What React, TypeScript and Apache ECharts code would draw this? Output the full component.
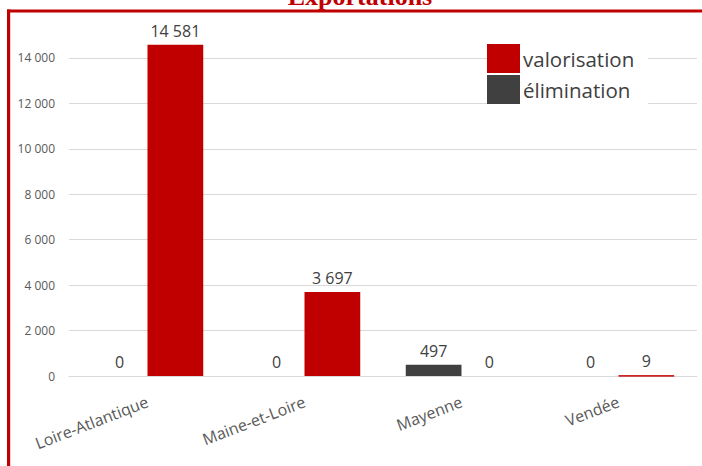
import React, { useEffect, useRef } from "react";
import * as echarts from "echarts";

const categories = ["Loire-Atlantique", "Maine-et-Loire", "Mayenne", "Vendée"];
const elimination = [0, 0, 497, 0];
const valorisation = [14581, 3697, 0, 9];
const seriesNames = ["valorisation", "élimination"];
const titleText = "Exportations";

const fmt = (v: number) => String(v).replace(/\B(?=(\d{3})+(?!\d))/g, " ");

export default function App() {
  const ref = useRef<HTMLDivElement>(null);
  useEffect(() => {
    if (!ref.current) return;
    const chart = echarts.init(ref.current, undefined, { renderer: "svg" });
    const labelStyle = {
      show: true,
      position: "top",
      distance: 6,
      fontFamily: "Open Sans",
      fontSize: 16,
      color: "#404040",
      formatter: (p: any) => fmt(p.value),
    };
    chart.setOption({
      animation: false,
      backgroundColor: "#ffffff",
      textStyle: { fontFamily: "Open Sans" },
      grid: { left: 69, right: 5, top: 12.5, bottom: 90 },
      legend: {
        orient: "vertical",
        left: 487,
        top: 37,
        itemWidth: 33,
        itemHeight: 29,
        itemGap: 2,
        padding: [7, 14, 7, 0],
        backgroundColor: "#ffffff",
        icon: "rect",
        data: seriesNames,
        textStyle: { fontFamily: "Open Sans", fontSize: 20.5, color: "#404040", padding: [0, 0, 0, -2] },
      },
      xAxis: {
        type: "category",
        data: categories,
        axisTick: { show: false },
        axisLine: { lineStyle: { color: "#d9d9d9" } },
        axisLabel: {
          rotate: 21,
          margin: 25,
          fontFamily: "Open Sans",
          fontSize: 16,
          color: "#595959",
          interval: 0,
        },
      },
      yAxis: {
        type: "value",
        min: 0,
        max: 16000,
        interval: 2000,
        axisLine: { show: false },
        axisTick: { show: false },
        axisLabel: {
          showMaxLabel: false,
          margin: 14,
          fontFamily: "Open Sans",
          fontSize: 12,
          color: "#595959",
          formatter: (v: number) => fmt(v),
        },
        splitLine: { showMaxLine: false, lineStyle: { color: "#d9d9d9" } },
      },
      series: [
        {
          name: "élimination",
          type: "bar",
          data: elimination,
          barGap: "0%",
          barCategoryGap: "29%",
          itemStyle: { color: "#404040" },
          label: labelStyle,
        },
        {
          name: "valorisation",
          type: "bar",
          data: valorisation.map((v) =>
            v > 0 && v < 100 ? { value: v, itemStyle: { borderColor: "#c00000", borderWidth: 1 } } : v
          ),
          barGap: "0%",
          barCategoryGap: "29%",
          itemStyle: { color: "#c00000" },
          label: labelStyle,
        },
      ],
      graphic: [
        {
          type: "text",
          x: 360,
          y: 9,
          z: 100,
          style: {
            text: titleText,
            fontFamily: "Liberation Serif",
            fontWeight: "bold",
            fontSize: 26,
            fill: "#c00000",
            textAlign: "center",
            textVerticalAlign: "bottom",
          },
        },
        {
          type: "rect",
          z: 101,
          shape: { x: 10, y: 12, width: 692, height: 8 },
          style: { fill: "#ffffff" },
        },
        {
          type: "rect",
          z: 102,
          shape: { x: 7, y: 9.5, width: 695, height: 3 },
          style: { fill: "#c00000" },
        },
        {
          type: "rect",
          z: 102,
          shape: { x: 7, y: 9.5, width: 3.2, height: 460 },
          style: { fill: "#c00000" },
        },
      ],
    });
    return () => chart.dispose();
  }, []);
  return <div ref={ref} style={{ width: 702, height: 466, position: "absolute", left: 0, top: 0 }} />;
}
